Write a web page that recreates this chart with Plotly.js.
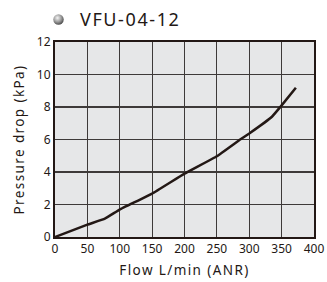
<!DOCTYPE html>
<html><head><meta charset="utf-8">
<script src="https://cdn.plot.ly/plotly-3.0.1.min.js"></script>
<style>
html,body{margin:0;padding:0;background:#fff}#c{width:327px;height:282px}
.xtitle,.ytitle{letter-spacing:1.4px}
.annotation-text{letter-spacing:1.6px}
</style>
</head><body><div id="c"></div>
<script>
const flow = [0, 50, 77, 100, 150, 200, 250, 286, 300, 335, 350, 372];
const pressure = [0, 0.76, 1.13, 1.69, 2.67, 3.9, 4.97, 6.0, 6.37, 7.4, 8.1, 9.18];
const xTicks = [0, 50, 100, 150, 200, 250, 300, 350, 400];
const yTicks = [0, 2, 4, 6, 8, 10, 12];
const chartTitle = "VFU-04-12";

const fontFam = "Noto Sans, Open Sans, sans-serif";
const sphere = 'data:image/svg+xml;utf8,' + encodeURIComponent(
  '<svg xmlns="http://www.w3.org/2000/svg" width="20" height="20" viewBox="0 0 20 20">' +
  '<defs><radialGradient id="g" cx="40%" cy="35%" r="65%">' +
  '<stop offset="0" stop-color="#f4f4f4"/><stop offset="0.55" stop-color="#a0a0a0"/><stop offset="1" stop-color="#505050"/>' +
  '</radialGradient></defs><circle cx="10" cy="10" r="9.5" fill="url(#g)"/></svg>');

Plotly.newPlot('c', [{
  x: flow, y: pressure, mode: 'lines', type: 'scatter',
  line: {color: '#231815', width: 2.5, shape: 'spline', smoothing: 0.2},
  hoverinfo: 'skip'
}], {
  width: 327, height: 282,
  margin: {l: 55, r: 13, t: 42, b: 45},
  paper_bgcolor: '#ffffff', plot_bgcolor: '#e6e7e8',
  showlegend: false,
  font: {family: fontFam, color: '#231815', size: 12},
  xaxis: {
    range: [0, 400], tickvals: xTicks, ticktext: xTicks.map(String),
    showgrid: true, gridcolor: '#3e3a39', gridwidth: 1.2,
    showline: true, mirror: true, linecolor: '#231815', linewidth: 2,
    zeroline: false, ticks: '', ticklen: 0,
    tickfont: {size: 12, family: fontFam, color: '#231815'},
    title: {text: 'Flow L/min (ANR)', font: {size: 13.5, family: fontFam, color: '#231815'}, standoff: 9}
  },
  yaxis: {
    range: [0, 12], tickvals: yTicks, ticktext: yTicks.map(String),
    showgrid: true, gridcolor: '#3e3a39', gridwidth: 1.2,
    showline: true, mirror: true, linecolor: '#231815', linewidth: 2,
    zeroline: false, ticks: '', ticklen: 0,
    tickfont: {size: 12, family: fontFam, color: '#231815'},
    title: {text: 'Pressure drop (kPa)', font: {size: 13.5, family: fontFam, color: '#231815'}, standoff: 9}
  },
  images: [{source: sphere, xref: 'paper', yref: 'paper', x: 0.0135, y: 1.1154,
    sizex: 0.0425, sizey: 0.0564, xanchor: 'center', yanchor: 'middle', layer: 'above',
    sizing: 'stretch'}],
  annotations: [
    {xref: 'paper', yref: 'paper', x: 0.088, y: 1.0, yshift: 23, xanchor: 'left', yanchor: 'middle',
     text: chartTitle, showarrow: false, font: {size: 18, color: '#231815', family: fontFam}}
  ]
}, {displayModeBar: false, staticPlot: true});
</script></body></html>
